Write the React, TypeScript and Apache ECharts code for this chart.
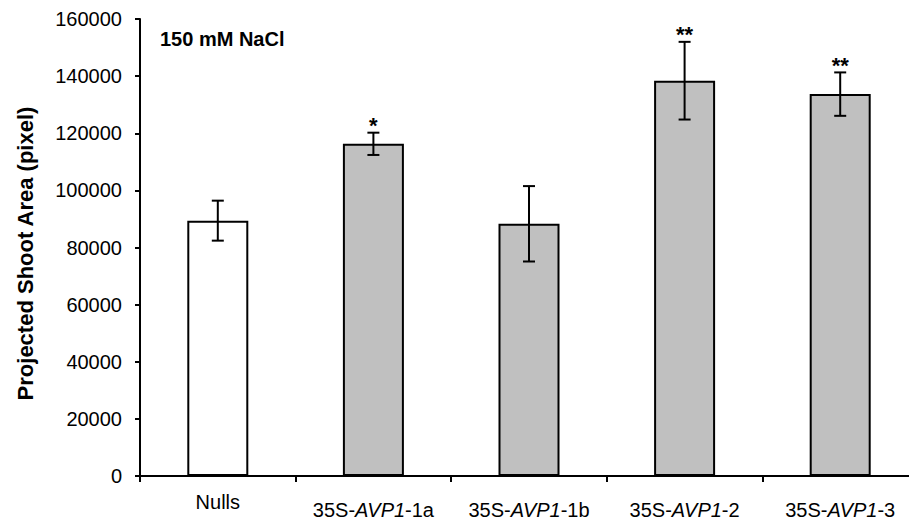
import React, { useEffect, useRef } from "react";
import * as echarts from "echarts";

// Projected shoot area under 150 mM NaCl, mean ± error per line
const categories = ["Nulls", "35S-AVP1-1a", "35S-AVP1-1b", "35S-AVP1-2", "35S-AVP1-3"];
const means = [89400, 116300, 88300, 138400, 133700];
const errors = [7000, 3900, 13200, 13600, 7600];
const significance = ["", "*", "", "**", "**"];
const yMin = 0;
const yMax = 160000;
const yStep = 20000;

const FONT = "'Liberation Sans', Arial, Helvetica, sans-serif";

export default function App() {
  const ref = useRef<HTMLDivElement>(null);

  useEffect(() => {
    if (!ref.current) return;
    const chart = echarts.init(ref.current, null, { renderer: "svg" });

    const labelFormatter = (value: string) => {
      const m = value.match(/^(35S-)(AVP1)(-.*)$/);
      if (!m) return `{n|${value}}`;
      return `{a|${m[1]}}{i|${m[2]}}{a|${m[3]}}`;
    };

    chart.setOption({
      animation: false,
      backgroundColor: "#ffffff",
      textStyle: { fontFamily: FONT },
      grid: {
        left: 140,
        right: -9,
        top: 19,
        bottom: 49,
        containLabel: false,
        outerBoundsMode: "none",
      },
      xAxis: {
        type: "category",
        data: categories,
        axisLine: { show: true, lineStyle: { color: "#000", width: 2 } },
        axisTick: { show: true, length: 6, lineStyle: { color: "#000", width: 2 } },
        axisLabel: {
          margin: 15,
          interval: 0,
          color: "#000",
          fontFamily: FONT,
          fontSize: 20,
          formatter: labelFormatter,
          rich: {
            n: { fontFamily: FONT, fontSize: 20, color: "#000", lineHeight: 22 },
            a: { fontFamily: FONT, fontSize: 20, color: "#000", lineHeight: 38 },
            i: { fontFamily: FONT, fontSize: 20, color: "#000", fontStyle: "italic", lineHeight: 38 },
          },
        },
        splitLine: { show: false },
      },
      yAxis: {
        type: "value",
        min: yMin,
        max: yMax,
        interval: yStep,
        name: "Projected Shoot Area (pixel)",
        nameLocation: "middle",
        nameGap: 104,
        nameTextStyle: {
          fontFamily: FONT,
          fontSize: 22,
          fontWeight: "bold",
          color: "#000",
          padding: [0, 12, 0, 0],
        },
        axisLine: { show: true, lineStyle: { color: "#000", width: 2 } },
        axisTick: { show: true, length: 5, lineStyle: { color: "#000", width: 2 } },
        axisLabel: {
          margin: 18,
          color: "#000",
          fontFamily: FONT,
          fontSize: 20,
          formatter: (v: number) => String(v),
        },
        splitLine: { show: false },
      },
      graphic: [
        {
          type: "text",
          left: 160,
          top: 29,
          style: {
            text: "150 mM NaCl",
            fontFamily: FONT,
            fontSize: 20,
            fontWeight: "bold",
            fill: "#000",
          },
        },
      ],
      series: [
        {
          type: "bar",
          barWidth: 61,
          data: means.map((v, i) => ({
            value: v,
            itemStyle: {
              color: i === 0 ? "#ffffff" : "#c0c0c0",
              borderColor: "#000",
              borderWidth: 2,
            },
          })),
        },
        {
          type: "custom",
          z: 10,
          data: means.map((m, i) => [i, m - errors[i], m + errors[i]]),
          encode: { x: 0, y: [1, 2] },
          renderItem: (params: any, api: any) => {
            const idx = api.value(0);
            const lo = api.coord([idx, api.value(1)]);
            const hi = api.coord([idx, api.value(2)]);
            const half = 6;
            const line = { stroke: "#000", lineWidth: 2 };
            const children: any[] = [
              { type: "line", shape: { x1: hi[0], y1: hi[1], x2: lo[0], y2: lo[1] }, style: line },
              { type: "line", shape: { x1: hi[0] - half, y1: hi[1], x2: hi[0] + half, y2: hi[1] }, style: line },
              { type: "line", shape: { x1: lo[0] - half, y1: lo[1], x2: lo[0] + half, y2: lo[1] }, style: line },
            ];
            const sig = significance[params.dataIndex];
            if (sig) {
              children.push({
                type: "text",
                x: hi[0],
                y: hi[1] - 7,
                style: {
                  text: sig,
                  fontFamily: FONT,
                  fontSize: 22,
                  fontWeight: "bold",
                  fill: "#000",
                  align: "center",
                  verticalAlign: "middle",
                },
              });
            }
            return { type: "group", children };
          },
        },
      ],
    });

    return () => chart.dispose();
  }, []);

  return <div ref={ref} style={{ width: 909, height: 525, position: "fixed", left: 0, top: 0 }} />;
}
